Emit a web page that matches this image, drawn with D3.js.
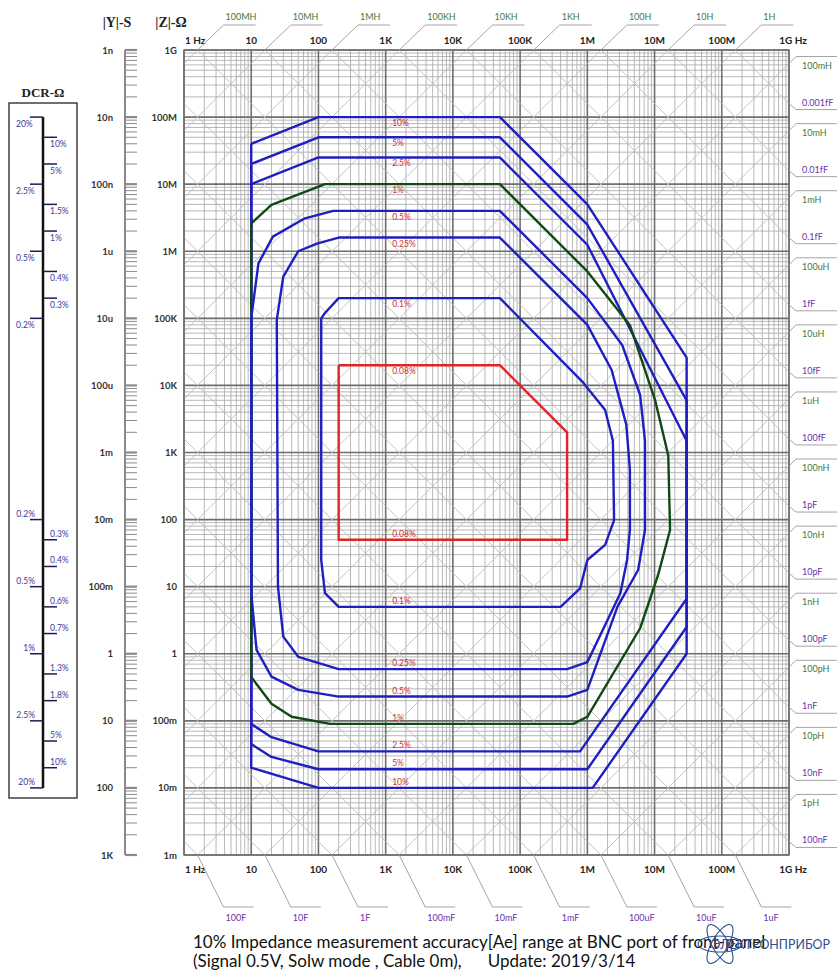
<!DOCTYPE html>
<html>
<head>
<meta charset="utf-8">
<script src="https://cdn.jsdelivr.net/npm/d3@7"></script>
<style>
  body { margin: 0; background: #fff; }
</style>
</head>
<body>
<div id="chart"></div>
<script>
// ---- axis data ----
const freqTicks = [1, 10, 100, 1e3, 1e4, 1e5, 1e6, 1e7, 1e8, 1e9];
const freqLabels = ["1 Hz", "10", "100", "1K", "10K", "100K", "1M", "10M", "100M", "1G Hz"];
const zTicks = [1e9, 1e8, 1e7, 1e6, 1e5, 1e4, 1e3, 100, 10, 1, 0.1, 0.01, 0.001];
const zLabels = ["1G", "100M", "10M", "1M", "100K", "10K", "1K", "100", "10", "1", "100m", "10m", "1m"];
const yLabels = ["1n", "10n", "100n", "1u", "10u", "100u", "1m", "10m", "100m", "1", "10", "100", "1K"];

// inductance / capacitance reference lines
const topL = [1e8, 1e7, 1e6, 1e5, 1e4, 1e3, 100, 10, 1];
const topLLabels = ["100MH", "10MH", "1MH", "100KH", "10KH", "1KH", "100H", "10H", "1H"];
const rightL = [0.1, 1e-2, 1e-3, 1e-4, 1e-5, 1e-6, 1e-7, 1e-8, 1e-9, 1e-10, 1e-11, 1e-12];
const rightLLabels = ["100mH", "10mH", "1mH", "100uH", "10uH", "1uH", "100nH", "10nH", "1nH", "100pH", "10pH", "1pH"];
const rightC = [1e-18, 1e-17, 1e-16, 1e-15, 1e-14, 1e-13, 1e-12, 1e-11, 1e-10, 1e-9, 1e-8, 1e-7];
const rightCLabels = ["0.001fF", "0.01fF", "0.1fF", "1fF", "10fF", "100fF", "1pF", "10pF", "100pF", "1nF", "10nF", "100nF"];
const bottomC = [100, 10, 1, 0.1, 0.01, 1e-3, 1e-4, 1e-5, 1e-6];
const bottomCLabels = ["100F", "10F", "1F", "100mF", "10mF", "1mF", "100uF", "10uF", "1uF"];

// DCR accuracy scale: [resistance, label]
const dcrLeft = [[1e8, "20%"], [1e7, "2.5%"], [1e6, "0.5%"], [1e5, "0.2%"],
                 [100, "0.2%"], [10, "0.5%"], [1, "1%"], [0.1, "2.5%"], [0.01, "20%"]];
const dcrRight = [[5e7, "10%"], [2e7, "5%"], [5e6, "1.5%"], [2e6, "1%"], [5e5, "0.4%"], [2e5, "0.3%"],
                  [50, "0.3%"], [20, "0.4%"], [5, "0.6%"], [2, "0.7%"], [0.5, "1.3%"], [0.2, "1.8%"],
                  [0.05, "5%"], [0.02, "10%"]];

// ---- accuracy contours: [frequency Hz, |Z| ohm] ----
const acc10 = [[10, 4e7], [100, 1e8], [5e4, 1e8], [1e6, 5e6], [3e7, 2.6e4], [3e7, 1], [1.2e6, 0.01],
               [100, 0.01], [10, 0.02], [10, 4e7]];
const acc5 = [[10, 2e7], [100, 5e7], [5e4, 5e7], [1e6, 2.5e6], [3e7, 6e3], [3e7, 2.5], [1e6, 0.019],
              [100, 0.019], [20, 0.029], [10, 0.045], [10, 2e7]];
const acc2_5 = [[10, 1e7], [100, 2.5e7], [5e4, 2.5e7], [1e6, 1.25e6], [3e7, 1.5e3], [3e7, 6.6], [7.8e5, 0.035],
                [100, 0.035], [20, 0.057], [10, 0.09], [10, 1e7]];
const acc1 = [[10, 2.6e6], [20, 4.9e6], [125, 1e7], [5e4, 1e7], [1e6, 5e5], [4.3e6, 7.9e4], [1.02e7, 6e3],
              [1.6e7, 900], [1.7e7, 70], [1.13e7, 15], [6.1e6, 2.4], [1e6, 0.115], [6.2e5, 0.09], [150, 0.09],
              [40, 0.115], [20, 0.18], [10, 0.45], [10, 2.6e6]];
const acc05 = [[10, 1e5], [12.8, 6.6e5], [21, 1.65e6], [63, 3.1e6], [166, 4e6], [5e4, 4e6], [1e6, 2e5],
               [3.3e6, 4e4], [6.1e6, 7.2e3], [7.2e6, 1.5e3], [7.2e6, 70], [5.7e6, 17.7], [2.8e6, 5], [1e6, 0.29],
               [5e5, 0.23], [200, 0.23], [50, 0.29], [20, 0.455], [12, 1.14], [10, 8], [10, 1e5]];
const acc025 = [[24, 9.5e4], [30, 4.2e5], [50, 1e6], [95, 1.3e6], [200, 1.6e6], [5e4, 1.6e6], [1e6, 8e4],
                [2.3e6, 1.7e4], [3.8e6, 2.6e3], [4.3e6, 550], [4.3e6, 70], [3.9e6, 25], [3.1e6, 8], [1e6, 0.75],
                [5e5, 0.59], [200, 0.59], [50, 0.9], [30, 1.8], [25, 10], [24, 9.5e4]];
const acc01 = [[110, 1e5], [125, 1.2e5], [200, 2e5], [5e4, 2e5], [8.7e5, 1.1e4], [1.84e6, 4.3e3], [2.4e6, 1.5e3],
               [2.5e6, 98], [1.84e6, 42], [1e6, 25], [7.8e5, 9.4], [4e5, 5], [200, 5], [125, 8], [110, 25], [110, 1e5]];
const acc008 = [[200, 2e4], [5e4, 2e4], [5e5, 2e3], [5e5, 50], [200, 50], [200, 2e4]];

const contours = [
  { name: "10%", pts: acc10, color: "#1f1fc0" },
  { name: "5%", pts: acc5, color: "#1f1fc0" },
  { name: "2.5%", pts: acc2_5, color: "#1f1fc0" },
  { name: "1%", pts: acc1, color: "#0f4a12" },
  { name: "0.5%", pts: acc05, color: "#1f1fc0" },
  { name: "0.25%", pts: acc025, color: "#1f1fc0" },
  { name: "0.1%", pts: acc01, color: "#1f1fc0" },
  { name: "0.08%", pts: acc008, color: "#e02424" }
];

// ---- drawing ----
const W = 837, H = 973;
const svg = d3.select("#chart").append("svg")
  .attr("width", W).attr("height", H)
  .style("font-family", "Lato, 'Open Sans', sans-serif");

const x = d3.scaleLog().domain([1, 1e9]).range([184, 789]);
const y = d3.scaleLog().domain([1e-3, 1e9]).range([855, 50]);
const TWO_PI = 2 * Math.PI;

// grid
const grid = svg.append("g");
const minorF = [], minorZ = [];
freqTicks.slice(0, -1).forEach(d => d3.range(2, 10).forEach(m => minorF.push(d * m)));
zTicks.slice(1).forEach(d => d3.range(2, 10).forEach(m => minorZ.push(d * m)));
grid.selectAll(".vminor").data(minorF).enter().append("line")
  .attr("x1", d => x(d)).attr("x2", d => x(d)).attr("y1", y(1e9)).attr("y2", y(1e-3))
  .attr("stroke", "#a6a6a6").attr("stroke-width", 0.8);
grid.selectAll(".hminor").data(minorZ).enter().append("line")
  .attr("y1", d => y(d)).attr("y2", d => y(d)).attr("x1", x(1)).attr("x2", x(1e9))
  .attr("stroke", "#a6a6a6").attr("stroke-width", 0.8);
grid.selectAll(".vmajor").data(freqTicks).enter().append("line")
  .attr("x1", d => x(d)).attr("x2", d => x(d)).attr("y1", y(1e9)).attr("y2", y(1e-3))
  .attr("stroke", "#6e6e6e").attr("stroke-width", 1.6);
grid.selectAll(".hmajor").data(zTicks).enter().append("line")
  .attr("y1", d => y(d)).attr("y2", d => y(d)).attr("x1", x(1)).attr("x2", x(1e9))
  .attr("stroke", "#6e6e6e").attr("stroke-width", 1.6);

// clip for diagonals
svg.append("clipPath").attr("id", "plotclip").append("rect")
  .attr("x", x(1)).attr("y", y(1e9)).attr("width", x(1e9) - x(1)).attr("height", y(1e-3) - y(1e9));

const diag = svg.append("g").attr("clip-path", "url(#plotclip)");
const allL = d3.range(-12, 9).map(k => Math.pow(10, k));
const allC = d3.range(-18, 3).map(k => Math.pow(10, k));
diag.selectAll(".lline").data(allL).enter().append("line")
  .attr("x1", x(1)).attr("y1", d => y(TWO_PI * d))
  .attr("x2", x(1e9)).attr("y2", d => y(TWO_PI * 1e9 * d))
  .attr("stroke", "#bcbcbc").attr("stroke-width", 0.9);
diag.selectAll(".cline").data(allC).enter().append("line")
  .attr("x1", x(1)).attr("y1", d => y(1 / (TWO_PI * d)))
  .attr("x2", x(1e9)).attr("y2", d => y(1 / (TWO_PI * 1e9 * d)))
  .attr("stroke", "#bcbcbc").attr("stroke-width", 0.9);

// plot frame
svg.append("rect").attr("x", x(1)).attr("y", y(1e9))
  .attr("width", x(1e9) - x(1)).attr("height", y(1e-3) - y(1e9))
  .attr("fill", "none").attr("stroke", "#707070").attr("stroke-width", 1.4);

// frequency labels top & bottom
[44, 873].forEach(ty => {
  svg.append("g").selectAll("text").data(freqTicks).enter().append("text")
    .attr("x", (d, i) => i === 0 ? x(d) + 1 : (i === freqTicks.length - 1 ? x(d) + 4 : x(d)))
    .attr("y", ty)
    .attr("text-anchor", (d, i) => i === 0 ? "start" : "middle")
    .attr("font-size", 10).attr("font-weight", "bold").attr("fill", "#222")
    .text((d, i) => freqLabels[i]);
});

// |Z| labels
svg.append("g").selectAll("text").data(zTicks).enter().append("text")
  .attr("x", 177).attr("y", d => y(d) + 3.5).attr("text-anchor", "end")
  .attr("font-size", 9.5).attr("font-weight", "bold").attr("fill", "#333")
  .text((d, i) => zLabels[i]);

// |Y| scale
const yAxisX = 125;
svg.append("line").attr("x1", yAxisX).attr("x2", yAxisX).attr("y1", y(1e9)).attr("y2", y(1e-3))
  .attr("stroke", "#8a8a8a").attr("stroke-width", 2);
const yTicksAll = [];
zTicks.slice(1).forEach(d => d3.range(1, 10).forEach(m => yTicksAll.push({ z: d * m, major: m === 1 })));
yTicksAll.push({ z: 1e9, major: true });
svg.append("g").selectAll("line").data(yTicksAll).enter().append("line")
  .attr("x1", yAxisX).attr("x2", yAxisX + 12)
  .attr("y1", d => y(d.z)).attr("y2", d => y(d.z))
  .attr("stroke", "#8a8a8a").attr("stroke-width", d => d.major ? 2.2 : 1);
svg.append("g").selectAll("text").data(zTicks).enter().append("text")
  .attr("x", 113).attr("y", d => y(d) + 3.5).attr("text-anchor", "end")
  .attr("font-size", 9.5).attr("font-weight", "bold").attr("fill", "#333")
  .text((d, i) => yLabels[i]);

// headers
svg.append("text").attr("x", 117).attr("y", 27).attr("text-anchor", "middle")
  .attr("font-family", "'Liberation Serif', 'DejaVu Serif', serif").attr("font-weight", "bold")
  .attr("font-size", 14).attr("fill", "#222").text("|Y|-S");
svg.append("text").attr("x", 171).attr("y", 27).attr("text-anchor", "middle")
  .attr("font-family", "'Liberation Serif', 'DejaVu Serif', serif").attr("font-weight", "bold")
  .attr("font-size", 14).attr("fill", "#222").text("|Z|-Ω");

// leaders and L/C labels
const leaderColor = "#9a9a9a", lColor = "#3f7a3f", cColor = "#6a34a8";
const lead = svg.append("g").attr("fill", "none").attr("stroke", leaderColor).attr("stroke-width", 0.9);
const labs = svg.append("g").attr("font-size", 9);

topL.forEach((L, i) => {
  const x0 = x(1e9 / (TWO_PI * L)), y0 = y(1e9);
  lead.append("polyline").attr("points", [[x0, y0], [x0 + 26, 25], [x0 + 58, 25]].join(" "));
  labs.append("text").attr("x", x0 + 28).attr("y", 20).attr("fill", lColor).text(topLLabels[i]);
});
bottomC.forEach((C, i) => {
  const x0 = x(1 / (TWO_PI * 1e-3 * C)), y0 = y(1e-3);
  lead.append("polyline").attr("points", [[x0, y0], [x0 + 26, 907], [x0 + 56, 907]].join(" "));
  labs.append("text").attr("x", x0 + 28).attr("y", 921).attr("fill", cColor).text(bottomCLabels[i]);
});
rightL.forEach((L, i) => {
  const x0 = x(1e9), y0 = y(TWO_PI * 1e9 * L);
  lead.append("polyline").attr("points", [[x0, y0], [x0 + 7, y0 - 7], [837, y0 - 7]].join(" "));
  labs.append("text").attr("x", 802).attr("y", y0 + 5).attr("fill", lColor).text(rightLLabels[i]);
});
rightC.forEach((C, i) => {
  const x0 = x(1e9), y0 = y(1 / (TWO_PI * 1e9 * C));
  lead.append("polyline").attr("points", [[x0, y0], [x0 + 7, y0 + 6], [837, y0 + 6]].join(" "));
  labs.append("text").attr("x", 802).attr("y", y0 + 2).attr("fill", cColor).text(rightCLabels[i]);
});

// contours
const line = d3.line().x(d => x(d[0])).y(d => y(d[1]));
const cg = svg.append("g").attr("fill", "none").attr("stroke-width", 2.4).attr("stroke-linejoin", "round");
contours.forEach(c => cg.append("path").attr("d", line(c.pts)).attr("stroke", c.color));

// contour labels (top and bottom)
const labX = x(1250);
const clab = svg.append("g").attr("font-size", 8.5).attr("fill", "#d03030");
contours.forEach(c => {
  const zMax = d3.max(c.pts, d => d[1]), zMin = d3.min(c.pts, d => d[1]);
  clab.append("text").attr("x", labX).attr("y", y(zMax) + 9).text(c.name);
  clab.append("text").attr("x", labX).attr("y", y(zMin) - 3).text(c.name);
});

// DCR panel
const dcr = svg.append("g");
dcr.append("text").attr("x", 43).attr("y", 97).attr("text-anchor", "middle")
  .attr("font-family", "'Liberation Serif', 'DejaVu Serif', serif").attr("font-weight", "bold")
  .attr("font-size", 13).attr("fill", "#222").text("DCR-Ω");
dcr.append("rect").attr("x", 9).attr("y", 103).attr("width", 68).attr("height", 695)
  .attr("fill", "none").attr("stroke", "#333").attr("stroke-width", 1.4);
dcr.append("line").attr("x1", 43).attr("x2", 43).attr("y1", y(1e8)).attr("y2", y(0.01))
  .attr("stroke", "#111").attr("stroke-width", 2.5);
const tickCol = "#1c1c50", dcrText = "#3c3c9a";
dcrLeft.forEach(([r, t]) => {
  const ty = y(r), upper = r > 1e3;
  dcr.append("line").attr("x1", 30).attr("x2", 43).attr("y1", ty).attr("y2", ty).attr("stroke", tickCol).attr("stroke-width", 1.5);
  dcr.append("text").attr("x", upper ? 16 : 35).attr("y", upper ? ty + 10 : ty - 3)
    .attr("text-anchor", upper ? "start" : "end").attr("font-size", 8.5).attr("fill", dcrText).text(t);
});
dcrRight.forEach(([r, t]) => {
  const ty = y(r), upper = r > 1e3;
  dcr.append("line").attr("x1", 43).attr("x2", 57).attr("y1", ty).attr("y2", ty).attr("stroke", tickCol).attr("stroke-width", 1.5);
  dcr.append("text").attr("x", 50).attr("y", upper ? ty + 10 : ty - 3)
    .attr("font-size", 8.5).attr("fill", dcrText).text(t);
});

// caption
svg.append("text").attr("x", 193).attr("y", 948).attr("font-size", 17).attr("fill", "#111")
  .text("10% Impedance measurement accuracy[Ae] range at BNC port of front-panel");
svg.append("text").attr("x", 193).attr("y", 967).attr("font-size", 17).attr("fill", "#111")
  .attr("xml:space", "preserve").style("white-space", "pre")
  .text("(Signal 0.5V, Solw mode , Cable 0m),      Update: 2019/3/14");

// logo
const logo = svg.append("g").attr("transform", "translate(720,944)");
[0, 60, 120].forEach(a => logo.append("ellipse").attr("rx", 22).attr("ry", 8)
  .attr("transform", `rotate(${a})`).attr("fill", "none").attr("stroke", "#2d4f8f").attr("stroke-width", 1.1));
svg.append("text").attr("x", 712).attr("y", 949).attr("font-size", 13).attr("fill", "#2d4f8f")
  .attr("textLength", 118).attr("lengthAdjust", "spacingAndGlyphs").text("ЭЛЕКТРОНПРИБОР");
</script>
</body>
</html>
